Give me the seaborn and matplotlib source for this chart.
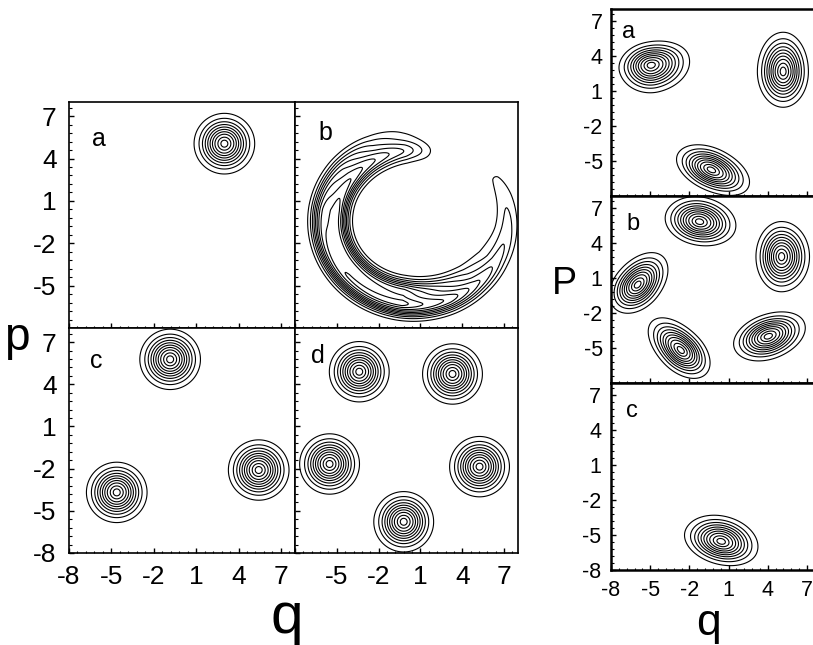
import numpy as np
import matplotlib.pyplot as plt
import seaborn as sns
from matplotlib.ticker import FixedLocator

sns.set_style("ticks", {"axes.edgecolor": "black", "xtick.color": "black",
                        "ytick.color": "black", "text.color": "black"})
plt.rcParams["font.family"] = ["Liberation Sans", "DejaVu Sans"]
plt.rcParams["axes.unicode_minus"] = False

# axis ticks shared by every panel
tick_vals = [-8, -5, -2, 1, 4, 7]
tick_text = ["-8", "-5", "-2", "1", "4", "7"]
levels = [0.1, 0.2, 0.3, 0.4, 0.5, 0.6, 0.7, 0.8, 0.9, 0.97]

# left column: round peaks (centre q, p), width 1
left_a_q = [3.0]
left_a_p = [5.05]
left_c_q = [-0.84, 5.43, -4.62]
left_c_p = [5.77, -2.10, -3.69]
left_d_q = [-3.39, 3.30, -5.52, 5.24, -0.20]
left_d_p = [4.89, 4.73, -1.67, -1.86, -5.78]
peak_width = 1.0

# left b: crescent = inner + outer ridge along an ellipse,
# amplitude of each ridge read along the arc (deg from the upper tip)
cres_centre = (0.6, -0.4)
cres_axes = (6.1, 5.5)
cres_start = 72
cres_s = [0, 8, 25, 45, 70, 100, 150, 190, 220, 240, 260, 283, 305, 318, 330, 360]
cres_in = [0.0, 0.14, 0.42, 0.6, 0.8, 0.95, 0.9, 0.8, 0.45, 0.25, 0.12, 0.05, 0.0, 0.0, 0.0, 0.0]
cres_out = [0.0, 0.0, 0.1, 0.25, 0.55, 0.8, 0.95, 1.0, 0.8, 0.55, 0.38, 0.27, 0.19, 0.12, 0.0, 0.0]
ridge_offset = 0.55
ridge_width = 0.52

# right column: lopsided peaks (q, p, angle, su-, su+, sv-, sv+)
right_a = [(-4.95, 3.20, 15, 1.15, 1.40, 1.10, 0.92),
           (5.18, 2.64, 0, 0.92, 0.90, 1.42, 1.57),
           (-0.33, -5.76, -30, 1.35, 1.50, 0.80, 0.85)]
right_b = [(-1.23, 5.80, -15, 1.24, 1.32, 0.93, 0.98),
           (5.05, 2.81, 0, 0.91, 1.00, 1.40, 1.40),
           (-5.97, 0.40, 55, 1.25, 1.45, 0.85, 0.85),
           (-2.64, -5.20, -50, 1.55, 1.30, 0.80, 0.80),
           (4.03, -4.00, 25, 1.30, 1.40, 0.90, 0.85)]
right_c = [(0.43, -5.56, -20, 1.35, 1.35, 0.90, 1.00)]

g = np.linspace(-8, 8, 321)
X, Y = np.meshgrid(g, g)


def round_peaks(qs, ps):
    z = np.zeros_like(X)
    for q, p in zip(qs, ps):
        z = np.maximum(z, np.exp(-((X - q) ** 2 + (Y - p) ** 2) / (2 * peak_width ** 2)))
    return z


def skew_peaks(blobs):
    z = np.zeros_like(X)
    for q, p, ang, su0, su1, sv0, sv1 in blobs:
        a = np.deg2rad(ang)
        u = (X - q) * np.cos(a) + (Y - p) * np.sin(a)
        v = -(X - q) * np.sin(a) + (Y - p) * np.cos(a)
        su = np.where(u < 0, su0, su1)
        sv = np.where(v < 0, sv0, sv1)
        z = np.maximum(z, np.exp(-0.5 * (u / su) ** 2 - 0.5 * (v / sv) ** 2))
    return z


def crescent():
    cx, cy = cres_centre
    a, b = cres_axes
    ex, ey = (X - cx) / a, (Y - cy) / b
    t = np.degrees(np.arctan2(ey, ex))
    s = (t - cres_start) % 360
    tr = np.deg2rad(t)
    d = (np.hypot(ex, ey) - 1) * np.hypot(a * np.cos(tr), b * np.sin(tr))
    inner = np.interp(s, cres_s, cres_in) * np.exp(-0.5 * ((d + ridge_offset) / ridge_width) ** 2)
    outer = np.interp(s, cres_s, cres_out) * np.exp(-0.5 * ((d - ridge_offset) / ridge_width) ** 2)
    return inner + outer


fig = plt.figure(figsize=(8.13, 6.45), dpi=100)
W, H = 813, 645


def add_ax(x0, y0, x1, y1):
    return fig.add_axes([x0 / W, 1 - y1 / H, (x1 - x0) / W, (y1 - y0) / H])


def style(ax, xlab, ylab, fs, pad, lw):
    ax.set_xlim(-8, 8)
    ax.set_ylim(-8, 8)
    ax.set_xticks(tick_vals, xlab)
    ax.set_yticks(tick_vals, ylab)
    minor = np.arange(-8, 8.01, 0.6)
    ax.xaxis.set_minor_locator(FixedLocator(minor))
    ax.yaxis.set_minor_locator(FixedLocator(minor))
    ax.tick_params(which="major", direction="in", length=3.5, width=1,
                   labelsize=fs, pad=pad)
    ax.tick_params(which="minor", direction="in", length=1.8, width=0.8)
    for sp in ax.spines.values():
        sp.set_linewidth(lw)


def draw(ax, z, letter, lx, ly, fs):
    ax.contour(X, Y, z / z.max(), levels=levels, colors="black", linewidths=0.8)
    ax.text(lx, ly, letter, fontsize=fs, ha="left", va="baseline")


none = [""] * 6
no8 = [""] + tick_text[1:]

ax = add_ax(69, 102, 295, 328)
draw(ax, round_peaks(left_a_q, left_a_p), "a", -6.39, 4.9, 18)
style(ax, none, no8, 19, 9, 1.2)

ax = add_ax(295, 102, 518, 328)
draw(ax, crescent(), "b", -6.35, 5.3, 18)
style(ax, none, none, 19, 9, 1.2)

ax = add_ax(69, 328, 295, 553)
draw(ax, round_peaks(left_c_q, left_c_p), "c", -6.51, 5.16, 18)
style(ax, tick_text, tick_text, 19, 9, 1.2)

ax = add_ax(295, 328, 518, 553)
draw(ax, round_peaks(left_d_q, left_d_p), "d", -6.82, 5.5, 18)
style(ax, no8, none, 19, 9, 1.2)

ax = add_ax(611, 9, 820, 196)
draw(ax, skew_peaks(right_a), "a", -7.15, 5.5, 17)
style(ax, none, no8, 15.5, 6, 1.8)

ax = add_ax(611, 196, 820, 383)
draw(ax, skew_peaks(right_b), "b", -6.85, 5.1, 17)
style(ax, none, no8, 15.5, 6, 1.8)

ax = add_ax(611, 383, 820, 570)
draw(ax, skew_peaks(right_c), "c", -6.85, 5.1, 17)
style(ax, tick_text, tick_text, 15.5, 7, 1.8)

fig.text(17 / W, 1 - 338 / H, "p", fontsize=33, ha="center", va="center")
fig.text(287 / W, 1 - 618 / H, "q", fontsize=42, ha="center", va="center")
fig.text(564 / W, 1 - 284 / H, "P", fontsize=27, ha="center", va="center")
fig.text(708 / W, 1 - 624 / H, "q", fontsize=32, ha="center", va="center")

fig.savefig("out.png", dpi=100)
